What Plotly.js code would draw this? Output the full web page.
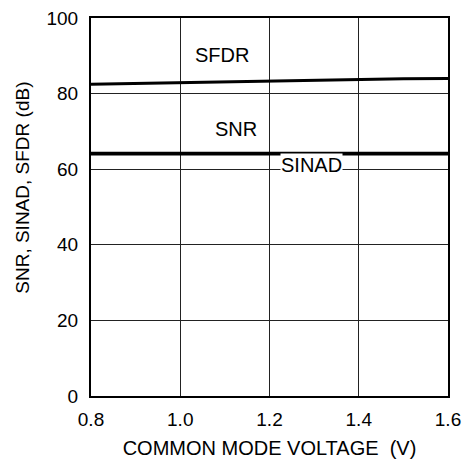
<!DOCTYPE html>
<html>
<head>
<meta charset="utf-8">
<script src="https://cdn.plot.ly/plotly-3.0.1.min.js"></script>
<style>html,body{margin:0;padding:0;background:#fff;}#chart{width:468px;height:464px;}</style>
</head>
<body>
<div id="chart"></div>
<script>
const voltage = [0.8, 0.9, 1.0, 1.1, 1.2, 1.3, 1.4, 1.5, 1.6];
const sfdr  = [82.5, 82.7, 83.0, 83.2, 83.4, 83.6, 83.85, 83.95, 84.0];
const snr   = [64.2, 64.2, 64.2, 64.2, 64.2, 64.2, 64.2, 64.2, 64.2];
const sinad = [64.0, 64.0, 64.0, 64.0, 64.0, 64.0, 64.0, 64.0, 64.0];
const xTicks = [0.8, 1.0, 1.2, 1.4, 1.6];
const xTickText = ['0.8', '1.0', '1.2', '1.4', '1.6'];
const yTicks = [0, 20, 40, 60, 80, 100];
const labels = [
  {text: 'SFDR', x: 1.094, y: 90.3},
  {text: 'SNR', x: 1.126, y: 70.6},
  {text: 'SINAD', x: 1.295, y: 61.0}
];

const font = 'Arial, "Liberation Sans", Helvetica, sans-serif';
const lineStyle = {color: '#000', width: 3};
const traces = [
  {x: voltage, y: sfdr, name: 'SFDR', mode: 'lines', line: lineStyle},
  {x: voltage, y: snr, name: 'SNR', mode: 'lines', line: lineStyle},
  {x: voltage, y: sinad, name: 'SINAD', mode: 'lines', line: lineStyle}
];

const annotations = labels.map((l, i) => ({
  text: l.text, x: l.x, y: l.y, xref: 'x', yref: 'y', showarrow: false,
  font: {family: font, size: 20, color: '#000'},
  bgcolor: i === 2 ? '#fff' : 'rgba(0,0,0,0)', borderpad: 0
}));
annotations.push({
  text: 'SNR, SINAD, SFDR (dB)', textangle: -90, xref: 'paper', yref: 'paper',
  x: 0, xshift: -68, y: 0.551, xanchor: 'center', yanchor: 'middle', showarrow: false,
  font: {family: font, size: 19, color: '#000'}
});

const layout = {
  width: 468, height: 464,
  margin: {l: 91, r: 20, t: 18, b: 68},
  paper_bgcolor: '#fff', plot_bgcolor: '#fff',
  showlegend: false,
  font: {family: font, size: 19, color: '#000'},
  xaxis: {
    range: [0.8, 1.6], tickvals: xTicks, ticktext: xTickText,
    showline: true, mirror: true, linecolor: '#000', linewidth: 2,
    showgrid: true, gridcolor: '#222', gridwidth: 1, zeroline: false,
    ticks: '', ticklabelstandoff: 5,
    tickfont: {family: font, size: 19, color: '#000'},
    title: {text: 'COMMON MODE VOLTAGE\u00a0\u00a0(V)', standoff: 12, font: {family: font, size: 20, color: '#000'}}
  },
  yaxis: {
    range: [0, 100], tickvals: yTicks,
    showline: true, mirror: true, linecolor: '#000', linewidth: 2,
    showgrid: true, gridcolor: '#222', gridwidth: 1, zeroline: false,
    ticks: '', ticklabelstandoff: 7,
    tickfont: {family: font, size: 19, color: '#000'}
  },
  annotations: annotations
};

Plotly.newPlot('chart', traces, layout, {staticPlot: true, displayModeBar: false});
</script>
</body>
</html>
